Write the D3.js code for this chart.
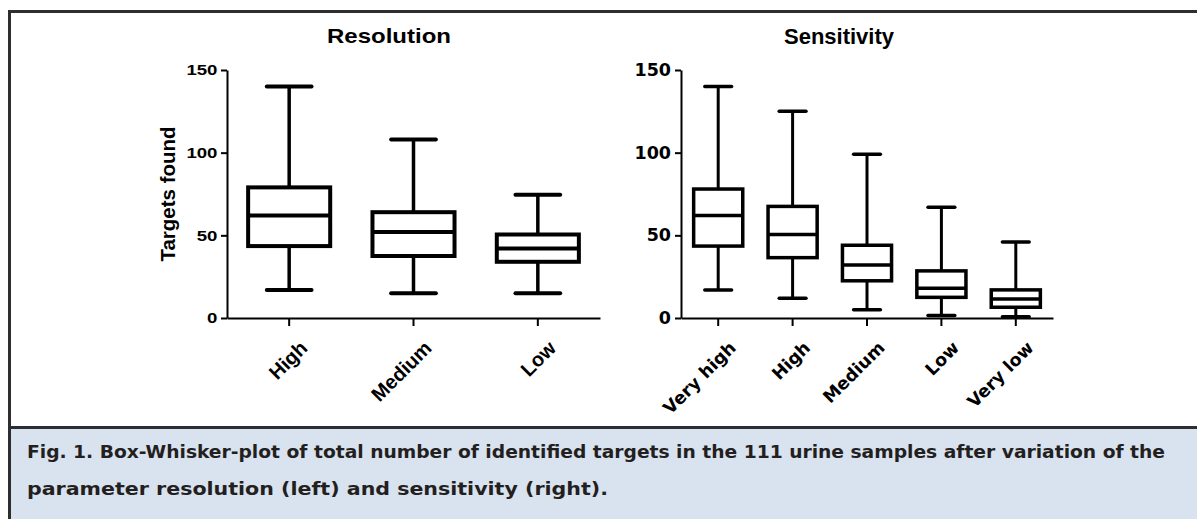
<!DOCTYPE html>
<html>
<head>
<meta charset="utf-8">
<script src="https://cdn.jsdelivr.net/npm/d3@7"></script>
<style>
  body { margin: 0; background: #fff; }
  svg { display: block; }
</style>
</head>
<body>
<div id="chart"></div>
<script>
// Data
var yTicks = [0, 50, 100, 150];

var resCategories = ["High", "Medium", "Low"];
var resMin    = [17, 15, 15];
var resQ1     = [43.5, 37.5, 34];
var resMedian = [62, 52, 42];
var resQ3     = [79, 64, 50.5];
var resMax    = [140, 108, 74.5];

var sensCategories = ["Very high", "High", "Medium", "Low", "Very low"];
var sensMin    = [17, 12, 5, 1.5, 0.8];
var sensQ1     = [43.5, 36.5, 22.5, 12.5, 6.5];
var sensMedian = [62, 50.5, 32, 18, 11.5];
var sensQ3     = [78, 67.5, 44, 28.5, 17];
var sensMax    = [140, 125, 99, 67, 46];

var width = 1197, height = 519;

var svg = d3.select("#chart")
  .append("svg")
    .attr("width", width)
    .attr("height", height);

// Caption area
svg.append("rect")
  .attr("x", 10).attr("y", 428)
  .attr("width", width - 10).attr("height", height - 428)
  .attr("fill", "#d9e2ef");

// Frame lines
svg.append("line").attr("x1", 8).attr("x2", width).attr("y1", 11.5).attr("y2", 11.5)
  .attr("stroke", "#2e2e2e").attr("stroke-width", 3);
svg.append("line").attr("x1", 9.5).attr("x2", 9.5).attr("y1", 10).attr("y2", height)
  .attr("stroke", "#2e2e2e").attr("stroke-width", 3);
svg.append("line").attr("x1", 8).attr("x2", width).attr("y1", 427.5).attr("y2", 427.5)
  .attr("stroke", "#2e2e2e").attr("stroke-width", 3);

var y = d3.scaleLinear()
  .domain([0, 150])
  .range([318, 70]);

function drawPanel(opts) {
  var x = d3.scaleBand()
    .domain(opts.categories)
    .range(opts.range)
    .paddingInner(0).paddingOuter(0);

  var rows = opts.categories.map(function (c, i) {
    return {cat: c, min: opts.min[i], q1: opts.q1[i], med: opts.median[i], q3: opts.q3[i], max: opts.max[i]};
  });

  var g = svg.append("g");
  var bw = x.bandwidth();
  var boxW = bw * 0.66, capW = bw * 0.36;

  // Y axis
  var yAxis = g.append("g")
    .attr("transform", "translate(" + opts.range[0] + ",0)")
    .call(d3.axisLeft(y).tickValues(yTicks).tickSize(6).tickSizeOuter(0).tickPadding(opts.tickPad));
  yAxis.selectAll("path, line").attr("stroke", "#000").attr("stroke-width", 2);
  yAxis.selectAll("text")
    .style("font-family", opts.font)
    .style("font-size", opts.tickSize + "px")
    .style("font-weight", "bold")
    .attr("fill", "#000")
    .attr("transform", "scale(" + opts.stretch + ",1)");

  // X axis
  var xAxis = g.append("g")
    .attr("transform", "translate(0," + y(0) + ")")
    .call(d3.axisBottom(x).tickSize(8).tickSizeOuter(0).tickPadding(4));
  xAxis.selectAll("path, line").attr("stroke", "#000").attr("stroke-width", 2);
  xAxis.selectAll("text")
    .style("font-family", opts.font)
    .style("font-size", opts.labelSize + "px")
    .style("font-weight", "bold")
    .attr("fill", "#000")
    .attr("text-anchor", "end")
    .attr("dy", "0.35em")
    .attr("transform", "translate(6,18) rotate(-45)");

  var box = g.selectAll(".box")
    .data(rows)
    .enter()
    .append("g")
      .attr("transform", function (d) { return "translate(" + (x(d.cat) + bw / 2) + ",0)"; });

  // whiskers
  box.append("line")
    .attr("x1", 0).attr("x2", 0)
    .attr("y1", function (d) { return y(d.max); })
    .attr("y2", function (d) { return y(d.min); })
    .attr("stroke", "#000").attr("stroke-width", opts.stroke);
  // caps
  box.append("line")
    .attr("x1", -capW / 2).attr("x2", capW / 2)
    .attr("y1", function (d) { return y(d.max); })
    .attr("y2", function (d) { return y(d.max); })
    .attr("stroke", "#000").attr("stroke-width", opts.stroke + 0.5).attr("stroke-linecap", "round");
  box.append("line")
    .attr("x1", -capW / 2).attr("x2", capW / 2)
    .attr("y1", function (d) { return y(d.min); })
    .attr("y2", function (d) { return y(d.min); })
    .attr("stroke", "#000").attr("stroke-width", opts.stroke + 0.5).attr("stroke-linecap", "round");
  // box
  box.append("rect")
    .attr("x", -boxW / 2)
    .attr("width", boxW)
    .attr("y", function (d) { return y(d.q3); })
    .attr("height", function (d) { return y(d.q1) - y(d.q3); })
    .attr("fill", "#fff")
    .attr("stroke", "#000").attr("stroke-width", opts.stroke + 0.5);
  // median
  box.append("line")
    .attr("x1", -boxW / 2).attr("x2", boxW / 2)
    .attr("y1", function (d) { return y(d.med); })
    .attr("y2", function (d) { return y(d.med); })
    .attr("stroke", "#000").attr("stroke-width", opts.stroke + 0.5);

  // title
  g.append("text")
    .attr("transform", "translate(" + opts.titleX + "," + opts.titleY + ") scale(" + opts.stretch + ",1)")
    .attr("text-anchor", "middle")
    .style("font-family", "'Liberation Sans', Arial, sans-serif")
    .style("font-size", opts.titleSize + "px")
    .style("font-weight", "bold")
    .text(opts.title);
}

drawPanel({
  title: "Resolution", titleX: 389, titleY: 43, titleSize: 20,
  categories: resCategories, min: resMin, q1: resQ1, median: resMedian, q3: resQ3, max: resMax,
  range: [227, 600], stroke: 3.5, stretch: 1.2, tickPad: 2,
  font: "'Liberation Sans', Arial, sans-serif", tickSize: 15.5, labelSize: 20
});

drawPanel({
  title: "Sensitivity", titleX: 839, titleY: 44, titleSize: 22,
  categories: sensCategories, min: sensMin, q1: sensQ1, median: sensMedian, q3: sensQ3, max: sensMax,
  range: [681, 1053], stroke: 3, stretch: 1, tickPad: 4,
  font: "'DejaVu Sans', Verdana, sans-serif", tickSize: 17.5, labelSize: 17.5
});

// Y axis label
svg.append("text")
  .attr("transform", "translate(175,194) rotate(-90)")
  .attr("text-anchor", "middle")
  .style("font-family", "'Liberation Sans', Arial, sans-serif")
  .style("font-size", "20.5px")
  .style("font-weight", "bold")
  .text("Targets found");

// Caption
var capFont = "'Liberation Sans Narrow', 'DejaVu Sans Condensed', 'Open Sans', sans-serif";
var cap1 = svg.append("text")
  .attr("x", 27).attr("y", 458)
  .attr("textLength", 1138).attr("lengthAdjust", "spacingAndGlyphs")
  .style("font-family", capFont)
  .style("font-size", "18px")
  .attr("fill", "#231f20");
cap1.append("tspan").style("font-weight", "bold").text("Fig. 1. ");
cap1.append("tspan").style("font-weight", "bold")
  .text("Box-Whisker-plot of total number of identified targets in the 111 urine samples after variation of the");

svg.append("text")
  .attr("x", 27).attr("y", 495)
  .attr("textLength", 581).attr("lengthAdjust", "spacingAndGlyphs")
  .style("font-family", capFont)
  .style("font-size", "18px")
  .style("font-weight", "bold")
  .attr("fill", "#231f20")
  .text("parameter resolution (left) and sensitivity (right).");
</script>
</body>
</html>
